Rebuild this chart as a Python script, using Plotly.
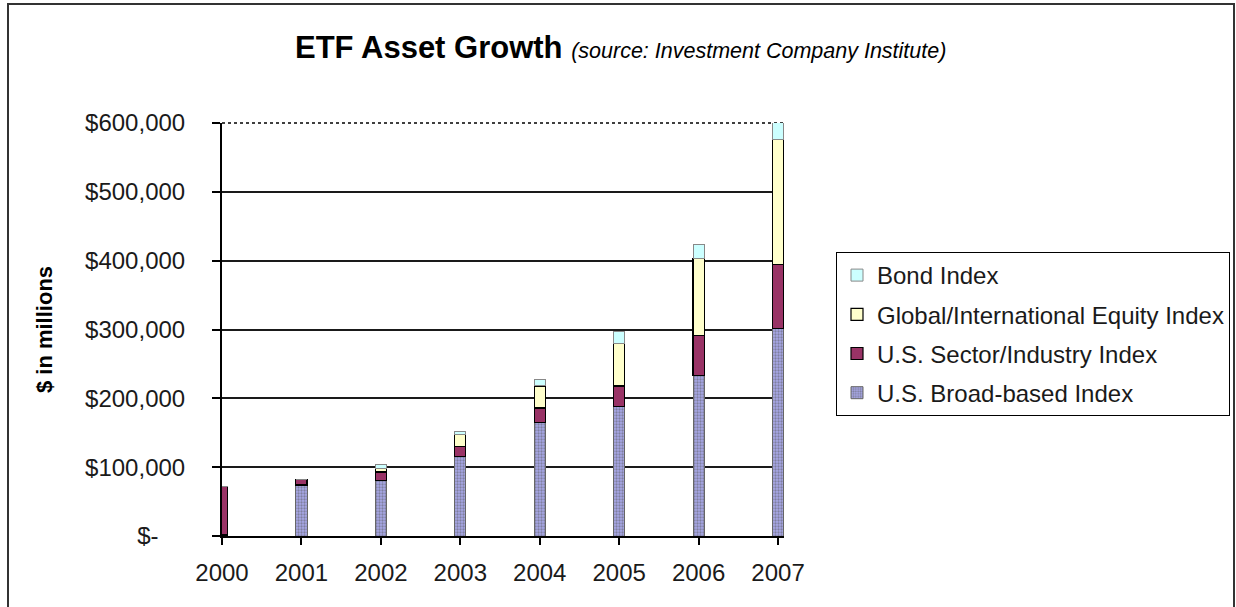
import plotly.graph_objects as go

years = ["2000", "2001", "2002", "2003", "2004", "2005", "2006", "2007"]
broad_based = [1500, 74000, 81000, 116000, 165000, 188000, 233000, 302000]
sector_industry = [70000, 8500, 12000, 14000, 21000, 30000, 58000, 93000]
global_intl = [0, 0, 5000, 17000, 32000, 62000, 112000, 181000]
bond_index = [0, 0, 6000, 5000, 9500, 17000, 21000, 26000]

y_tick_vals = [0, 100000, 200000, 300000, 400000, 500000, 600000]
y_tick_text = ["$-" + "\u00a0" * 4, "$100,000", "$200,000", "$300,000",
               "$400,000", "$500,000", "$600,000"]

FONT = "Liberation Sans, Arial, sans-serif"

fig = go.Figure()

fig.add_trace(go.Bar(
    x=years, y=broad_based, name="U.S. Broad-based Index", legendgroup="d", legendrank=4,
    marker=dict(color="#A8A8E8", line=dict(color="#666666", width=1),
                pattern=dict(shape=".", fgcolor="#555555", size=3, solidity=0.45)),
))
fig.add_trace(go.Bar(
    x=years, y=sector_industry, name="U.S. Sector/Industry Index", legendgroup="c", legendrank=3,
    marker=dict(color="#993366", line=dict(color="#000000", width=1.2)),
))
fig.add_trace(go.Bar(
    x=years, y=global_intl, name="Global/International Equity Index", legendgroup="b", legendrank=2,
    marker=dict(color="#FFFFCC", line=dict(color="#000000", width=1.2)),
))
fig.add_trace(go.Bar(
    x=years, y=bond_index, name="Bond Index", legendgroup="a", legendrank=1,
    marker=dict(color="#CCFFFF", line=dict(color="#888888", width=1)),
))

L, R, T, B = 222, 452, 123, 71
W, H = 1236, 607
pw = W - L - R
ph = H - T - B

def px_x(p):
    return (p - L) / pw

def px_y(p):
    return (H - B - p) / ph

fig.update_layout(
    width=W, height=H, autosize=False,
    margin=dict(l=L, r=R, t=T, b=B, pad=0, autoexpand=False),
    barmode="stack", bargap=0.86,
    plot_bgcolor="white", paper_bgcolor="white",
    font=dict(family=FONT, color="#1a1a1a"),
    title=dict(
        text="<b>ETF Asset Growth</b> <i><span style='font-size:21.5px'>(source: Investment Company Institute)</span></i>",
        font=dict(size=31, family=FONT, color="#000000"),
        xref="container", x=295 / W, xanchor="left",
        yref="container", y=1 - 47 / H, yanchor="middle",
    ),
    xaxis=dict(
        type="category", range=[0, 7.075],
        showline=True, linecolor="#000000", linewidth=2,
        ticks="outside", ticklen=7, tickwidth=2, tickcolor="#000000",
        ticklabelstandoff=7,
        tickfont=dict(size=24, family=FONT, color="#1a1a1a"),
        showgrid=False, zeroline=False,
    ),
    yaxis=dict(
        range=[0, 600000], tickvals=y_tick_vals, ticktext=y_tick_text,
        showline=True, linecolor="#000000", linewidth=2,
        ticks="outside", ticklen=8, tickwidth=2, tickcolor="#000000",
        ticklabelstandoff=22,
        tickfont=dict(size=24, family=FONT, color="#1a1a1a"),
        showgrid=True, gridcolor="#1a1a1a", gridwidth=2,
        zeroline=False,
        title=dict(text="<b>$ in millions</b>", standoff=26,
                   font=dict(size=22, family=FONT, color="#000000")),
    ),
    legend=dict(
        x=px_x(836), y=px_y(252), xanchor="left", yanchor="top",
        bgcolor="white", bordercolor="#000000", borderwidth=1,
        font=dict(size=24, family=FONT, color="#1a1a1a"),
        traceorder="grouped", tracegroupgap=5, itemwidth=30,
    ),
    shapes=[
        dict(type="line", xref="paper", yref="paper", x0=0, x1=1, y0=1, y1=1,
             line=dict(color="white", width=3), layer="between"),
        dict(type="line", xref="paper", yref="paper", x0=0, x1=1, y0=1, y1=1,
             line=dict(color="#000000", width=1.5, dash="dot"), layer="between"),
        dict(type="rect", xref="paper", yref="paper",
             x0=px_x(8), x1=px_x(1234), y0=px_y(615), y1=px_y(4),
             line=dict(color="#333333", width=2), fillcolor="rgba(0,0,0,0)",
             layer="below"),
    ],
)

fig.write_html("out.html")
